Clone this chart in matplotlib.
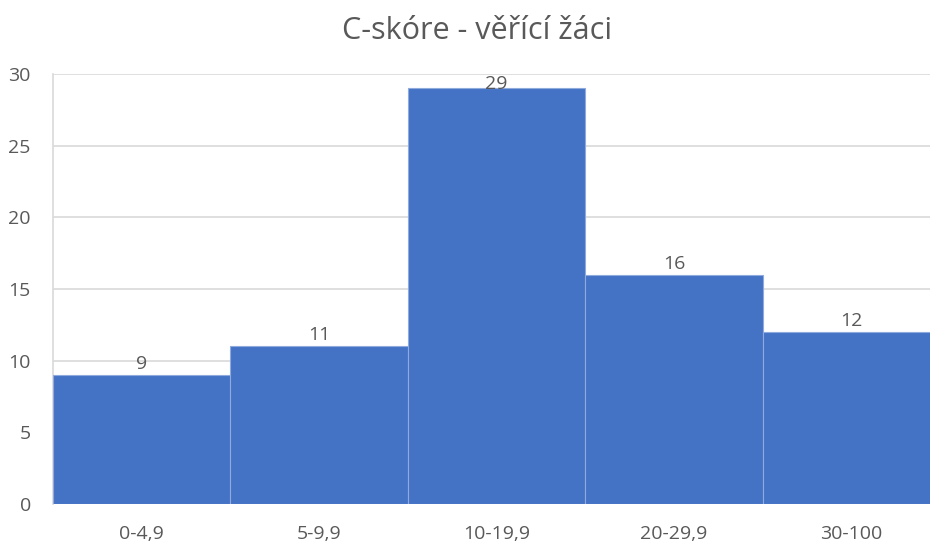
import matplotlib.pyplot as plt
import numpy as np

# histogram bins and counts
categories = ['0-4,9', '5-9,9', '10-19,9', '20-29,9', '30-100']
counts = [9, 11, 29, 16, 12]
y_ticks = [0, 5, 10, 15, 20, 25, 30]

plt.rcParams['font.family'] = ['Open Sans', 'DejaVu Sans']
text_color = '#595959'

fig = plt.figure(figsize=(9.3, 5.48), dpi=100)
# plot area runs slightly past the right edge of the picture, as in the reference
ax = fig.add_axes([53 / 930, 44 / 548, 887 / 930, 430 / 548])

x = np.arange(len(categories))
ax.bar(x, counts, width=1.0, color='#4472C4', edgecolor='#8FAADC', linewidth=0.8, zorder=3)

ymax = y_ticks[-1]
for xi, c in zip(x, counts):
    # Excel keeps labels inside the plot area, so the tallest one sits on the bar
    if c + 1.6 > ymax:
        ax.text(xi, ymax - 0.1, str(c), ha='center', va='top', fontsize=14,
                color=text_color, zorder=4)
    else:
        ax.text(xi, c + 0.15, str(c), ha='center', va='bottom', fontsize=14,
                color=text_color, zorder=4)

ax.set_xlim(-0.5, len(categories) - 0.5)
ax.set_ylim(0, ymax)
ax.set_yticks(y_ticks)
ax.set_xticks(x)
ax.set_xticklabels(categories)
ax.tick_params(axis='both', length=0, labelsize=14, colors=text_color)
ax.tick_params(axis='x', pad=15)
ax.tick_params(axis='y', pad=16)
ax.grid(axis='y', color='#D9D9D9', linewidth=1.2, zorder=0)
for s in ['top', 'right', 'bottom']:
    ax.spines[s].set_visible(False)
ax.spines['left'].set_color('#D9D9D9')
ax.spines['left'].set_linewidth(1.2)

fig.text(477 / 930, 1 - 31 / 548, 'C-skóre - věřící žáci', ha='center', va='center',
         fontsize=22, color=text_color)

fig.savefig('out.png', dpi=100)
